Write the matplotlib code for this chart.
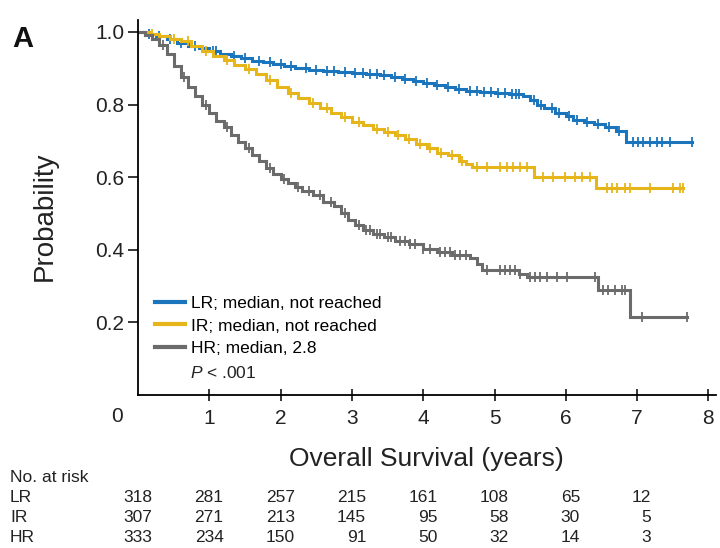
import numpy as np
import matplotlib
matplotlib.use("Agg")
import matplotlib.pyplot as plt
import matplotlib.transforms as mtransforms
from matplotlib.lines import Line2D

plt.rcParams["font.family"] = ["Liberation Sans", "DejaVu Sans"]
plt.rcParams["mathtext.fontset"] = "custom"
plt.rcParams["mathtext.it"] = "Liberation Sans:italic"
plt.rcParams["mathtext.rm"] = "Liberation Sans"

# ---- data ----
lr_time = [0, 0.1, 0.25, 0.4, 0.55, 0.7, 0.85, 1.0, 1.15, 1.3, 1.45, 1.6, 1.75, 1.9,
           2.05, 2.2, 2.4, 2.6, 2.8, 3.0, 3.2, 3.4, 3.55, 3.7, 3.85, 4.0, 4.15, 4.3,
           4.45, 4.6, 4.8, 5.0, 5.2, 5.4, 5.5, 5.6, 5.7, 5.85, 6.0, 6.1, 6.25, 6.4,
           6.55, 6.7, 6.85]
lr_surv = [1.0, 0.995, 0.99, 0.98, 0.97, 0.962, 0.955, 0.947, 0.94, 0.933, 0.927, 0.921,
           0.916, 0.911, 0.906, 0.901, 0.896, 0.892, 0.889, 0.886, 0.884, 0.881, 0.876,
           0.87, 0.865, 0.859, 0.853, 0.848, 0.843, 0.838, 0.834, 0.831, 0.829, 0.824,
           0.812, 0.8, 0.79, 0.778, 0.768, 0.758, 0.752, 0.746, 0.738, 0.728, 0.697]
lr_cens = [0.15, 0.3, 0.45, 0.6, 0.8, 1.05, 1.1, 1.35, 1.5, 1.7, 1.85, 2.0, 2.15, 2.35,
           2.5, 2.65, 2.75, 2.9, 3.05, 3.15, 3.25, 3.35, 3.45, 3.6, 3.75, 3.9, 4.05, 4.2,
           4.35, 4.5, 4.65, 4.75, 4.85, 4.95, 5.05, 5.15, 5.25, 5.3, 5.35, 5.55, 5.65,
           5.8, 5.9, 6.05, 6.15, 6.3, 6.45, 6.6, 6.75, 6.94, 7.01, 7.08, 7.18, 7.28,
           7.35, 7.46, 7.77]

ir_time = [0, 0.15, 0.3, 0.45, 0.6, 0.75, 0.9, 1.05, 1.2, 1.35, 1.5, 1.65, 1.8, 1.95,
           2.1, 2.25, 2.4, 2.55, 2.7, 2.85, 3.0, 3.15, 3.3, 3.45, 3.6, 3.75, 3.9, 4.05,
           4.2, 4.35, 4.5, 4.6, 4.68, 5.55, 6.42]
ir_surv = [1.0, 0.995, 0.99, 0.982, 0.974, 0.962, 0.948, 0.935, 0.922, 0.91, 0.898,
           0.885, 0.867, 0.848, 0.832, 0.818, 0.803, 0.79, 0.778, 0.766, 0.753, 0.743,
           0.733, 0.725, 0.716, 0.705, 0.692, 0.68, 0.668, 0.66, 0.645, 0.635, 0.628,
           0.6, 0.569]
ir_cens = [0.2, 0.5, 0.7, 0.95, 1.25, 1.55, 1.85, 2.15, 2.45, 2.65, 2.9, 3.1, 3.35, 3.5,
           3.65, 3.8, 3.95, 4.1, 4.25, 4.4, 4.55, 4.75, 4.9, 5.08, 5.18, 5.26, 5.36,
           5.46, 5.68, 5.82, 5.99, 6.13, 6.23, 6.34, 6.58, 6.65, 6.72, 6.83, 6.9, 7.18,
           7.5, 7.6, 7.64]

hr_time = [0, 0.1, 0.2, 0.3, 0.4, 0.5, 0.6, 0.7, 0.8, 0.9, 1.0, 1.1, 1.2, 1.3, 1.4, 1.5,
           1.6, 1.7, 1.8, 1.9, 2.0, 2.1, 2.2, 2.3, 2.45, 2.6, 2.75, 2.85, 2.95, 3.05,
           3.15, 3.3, 3.45, 3.6, 3.8, 4.0, 4.2, 4.4, 4.65, 4.75, 4.82, 5.35, 5.45, 6.45,
           6.9]
hr_surv = [1.0, 0.993, 0.982, 0.965, 0.94, 0.905, 0.875, 0.848, 0.825, 0.8, 0.777, 0.755,
           0.738, 0.716, 0.698, 0.68, 0.662, 0.645, 0.625, 0.608, 0.594, 0.584, 0.573,
           0.563, 0.55, 0.532, 0.52, 0.5, 0.482, 0.468, 0.455, 0.443, 0.435, 0.425,
           0.415, 0.402, 0.393, 0.386, 0.378, 0.36, 0.345, 0.333, 0.325, 0.29, 0.214]
hr_cens = [0.35, 0.65, 0.95, 1.25, 1.55, 1.85, 2.05, 2.25, 2.4, 2.55, 2.7, 2.9, 3.1, 3.2,
           3.25, 3.35, 3.4, 3.5, 3.55, 3.67, 3.74, 3.81, 3.89, 4.0, 4.1, 4.24, 4.3, 4.37,
           4.45, 4.52, 4.6, 4.9, 5.08, 5.15, 5.22, 5.29, 5.36, 5.5, 5.57, 5.64, 5.74,
           5.88, 6.02, 6.41, 6.52, 6.59, 6.69, 6.79, 6.83, 7.07, 7.7]

groups = ["LR", "IR", "HR"]
legend_labels = ["LR; median, not reached", "IR; median, not reached", "HR; median, 2.8"]
colors = ["#1b75bc", "#e5b519", "#6b6b6b"]

risk_times = [0, 1, 2, 3, 4, 5, 6, 7]
risk_lr = [318, 281, 257, 215, 161, 108, 65, 12]
risk_ir = [307, 271, 213, 145, 95, 58, 30, 5]
risk_hr = [333, 234, 150, 91, 50, 32, 14, 3]

curves = [(lr_time, lr_surv, lr_cens), (ir_time, ir_surv, ir_cens),
          (hr_time, hr_surv, hr_cens)]
risk = [risk_lr, risk_ir, risk_hr]

# ---- figure ----
fig = plt.figure(figsize=(7.2, 5.48), dpi=100)
ax = fig.add_axes([0.1917, 0.2792, 0.8021, 0.6843])

for (t, s, c), col in zip(curves, colors):
    t = np.asarray(t)
    s = np.asarray(s)
    c = np.asarray(c)
    tt = np.append(t, c.max())
    ss = np.append(s, s[-1])
    ax.plot(tt, ss, drawstyle="steps-post", color=col, lw=2.2, solid_joinstyle="miter")
    idx = np.searchsorted(t, c, side="right") - 1
    ax.plot(c, s[idx], ls="none", marker="|", ms=7, mew=1.3, color=col)

ax.set_xlim(0, 8.1)
ax.set_ylim(0, 1.033)
ax.spines["top"].set_visible(False)
ax.spines["right"].set_visible(False)
ax.spines["left"].set_linewidth(1.3)
ax.spines["bottom"].set_linewidth(1.3)

ax.set_yticks([0.2, 0.4, 0.6, 0.8, 1.0])
ax.set_yticklabels(["0.2", "0.4", "0.6", "0.8", "1.0"])
ax.set_xticks(range(1, 9))
ax.tick_params(axis="y", direction="out", length=7, width=1.1, pad=3, labelsize=15,
               labelcolor="#222222")
ax.tick_params(axis="x", direction="inout", length=8, width=1.1, pad=6, labelsize=15,
               labelcolor="#222222")

# shared origin label
ax.text(-0.3, -0.057, "0", transform=mtransforms.blended_transform_factory(ax.transData, ax.transAxes),
        ha="center", va="center", fontsize=15, color="#222222")

# legend
handles = [Line2D([], [], color=col, lw=3) for col in colors]
ax.legend(handles, legend_labels, loc="upper left", bbox_to_anchor=(0.029, 0.265),
          frameon=False, fontsize=12.5, handlelength=1.75, handletextpad=0.35,
          labelspacing=0.44, borderpad=0, borderaxespad=0)
ax.text(0.09, 0.059, r"$P$ < .001", transform=ax.transAxes, fontsize=12.5,
        ha="left", va="center", color="#222222")

fig.text(45 / 720, 1 - 216 / 548, "Probability", rotation=90, ha="center", va="center",
         fontsize=20, color="#222222")
fig.text(426 / 720, 1 - 459 / 548, "Overall Survival (years)", ha="center", va="center",
         fontsize=19, color="#222222")
fig.text(12 / 720, 1 - 47 / 548, "A", ha="left", va="baseline", fontsize=21,
         fontweight="bold", color="#111111")

# number at risk table
tr = mtransforms.blended_transform_factory(ax.transData, fig.transFigure)
fig.text(10 / 720, 1 - 477 / 548, "No. at risk", ha="left", va="center", fontsize=12.5,
         color="#222222")
row_y = [498, 518, 538]
for g, vals, yy in zip(groups, risk, row_y):
    fig.text(10 / 720, 1 - yy / 548, g, ha="left", va="center", fontsize=12.5,
             color="#222222")
    for xt, v in zip(risk_times, vals):
        ax.text(xt + 0.2, 1 - yy / 548, str(v), transform=tr, ha="right", va="center",
                fontsize=12.5, color="#222222")

fig.savefig("out.png", dpi=100)
